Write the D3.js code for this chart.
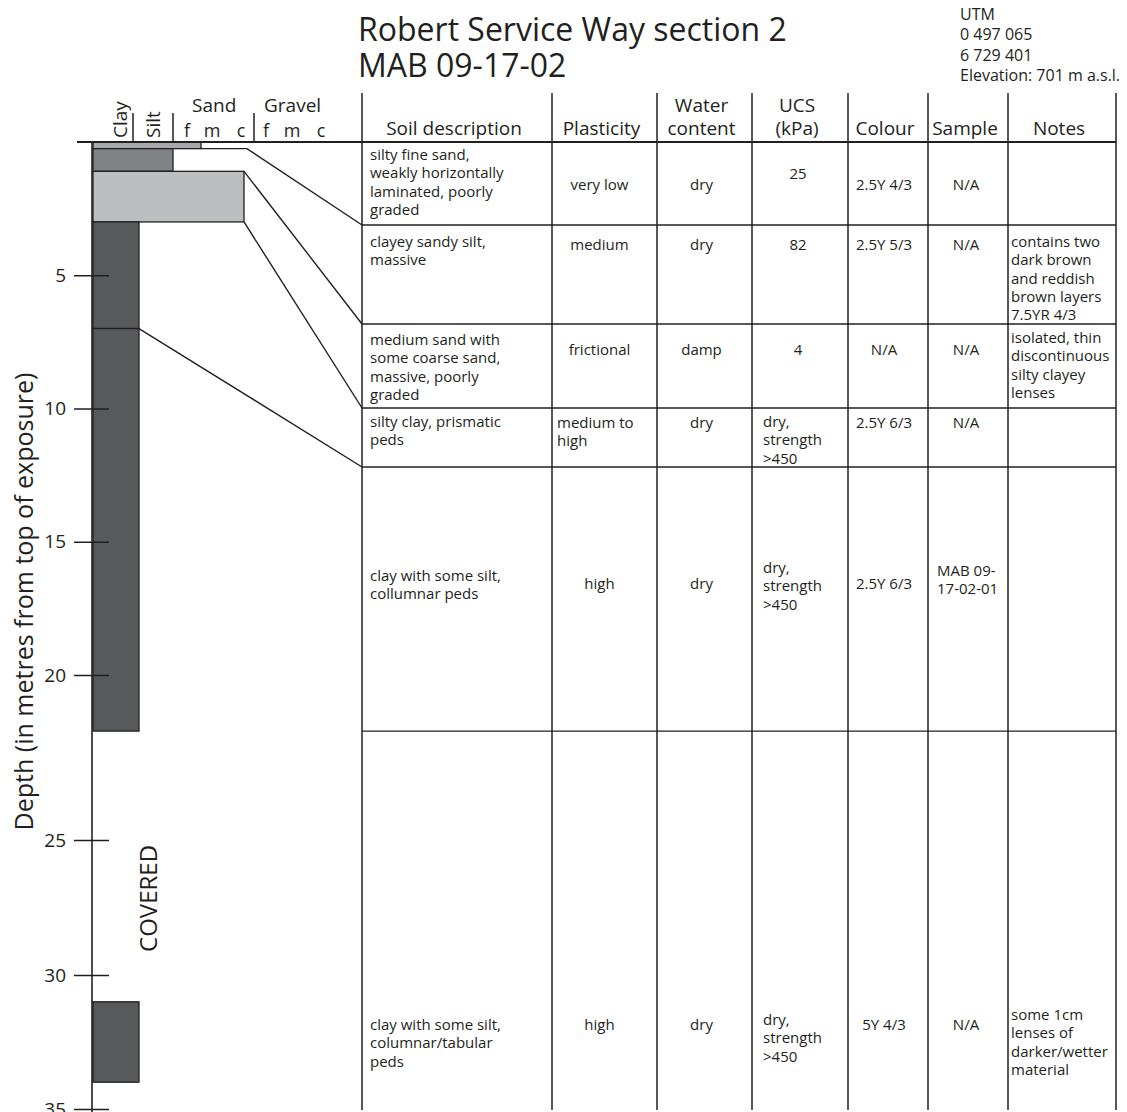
<!DOCTYPE html>
<html>
<head>
<meta charset="utf-8">
<script src="https://cdn.jsdelivr.net/npm/d3@7"></script>
<style>
  body { margin: 0; background: #fff; }
  svg { display: block; font-family: "Open Sans", "Noto Sans", sans-serif; }
  text { fill: #231f20; }
</style>
</head>
<body>
<svg id="chart" width="1127" height="1112"></svg>
<script>
// ---- Section data -------------------------------------------------------
const titleLines = ["Robert Service Way section 2", "MAB 09-17-02"];
const siteInfo = ["UTM", "0 497 065", "6 729 401", "Elevation: 701 m a.s.l."];

const depthTicks = [5, 10, 15, 20, 25, 30, 35];

const grainClasses = ["clay", "silt", "fine sand", "medium sand", "coarse sand",
                      "fine gravel", "medium gravel", "coarse gravel"];

// beds, top to bottom (depth in m below top of exposure)
const bedTop   = [0,    0.25, 1.1,  3.0,  7.0,  31.0];
const bedBase  = [0.25, 1.1,  3.0,  7.0,  21.7, 34.0];
const bedGrain = ["fine sand", "silt", "coarse sand", "clay", "clay", "clay"];
const bedShade = ["#a7a9ac", "#808285", "#bcbec0", "#58595b", "#58595b", "#58595b"];
const coveredLabel = "COVERED";
const coveredTop = 21.7, coveredBase = 31.0;

const tableHeaders = [["Soil description"], ["Plasticity"], ["Water", "content"],
                      ["UCS", "(kPa)"], ["Colour"], ["Sample"], ["Notes"]];

const soilDescription = [
  ["silty fine sand,", "weakly horizontally", "laminated, poorly", "graded"],
  ["clayey sandy silt,", "massive"],
  ["medium sand with", "some coarse sand,", "massive, poorly", "graded"],
  ["silty clay, prismatic", "peds"],
  ["clay with some silt,", "collumnar peds"],
  ["clay with some silt,", "columnar/tabular", "peds"]
];
const plasticity = [["very low"], ["medium"], ["frictional"], ["medium to", "high"], ["high"], ["high"]];
const waterContent = [["dry"], ["dry"], ["damp"], ["dry"], ["dry"], ["dry"]];
const ucs = [["25"], ["82"], ["4"], ["dry,", "strength", ">450"],
             ["dry,", "strength", ">450"], ["dry,", "strength", ">450"]];
const colour = [["2.5Y 4/3"], ["2.5Y 5/3"], ["N/A"], ["2.5Y 6/3"], ["2.5Y 6/3"], ["5Y 4/3"]];
const sample = [["N/A"], ["N/A"], ["N/A"], ["N/A"], ["MAB 09-", "17-02-01"], ["N/A"]];
const notes = [
  [],
  ["contains two", "dark brown", "and reddish", "brown layers", "7.5YR 4/3"],
  ["isolated, thin", "discontinuous", "silty clayey", "lenses"],
  [],
  [],
  ["some 1cm", "lenses of", "darker/wetter", "material"]
];

// ---- Layout ---------------------------------------------------------------
const ink = "#231f20";
const svg = d3.select("#chart");

// depth axis: the log is drawn with a stretched interval between 20 and 25 m
const y = d3.scaleLinear()
  .domain([0, 20, 25, 30, 35])
  .range([142, 675, 840, 975, 1109]);

const axisX = 92;
const grainX = d3.scaleOrdinal()
  .domain(grainClasses)
  .range([139, 173, 201, 223, 244, 277, 305, 335]);

// table geometry
const colX = [362, 552, 657, 752, 848, 928, 1008, 1116];
const headTop = 93, tableBottom = 1110;
const rowTop = [142, 225, 324, 408, 467, y(bedBase[4])];
const lh = 18.3;

// ---- Title block ----------------------------------------------------------
svg.append("g").selectAll("text").data(titleLines).join("text")
  .attr("x", 358).attr("y", (d, i) => 41 + i * 36)
  .attr("font-size", 32).text(d => d);

svg.append("g").selectAll("text").data(siteInfo).join("text")
  .attr("x", 960).attr("y", (d, i) => 20 + i * 20.3)
  .attr("font-size", 16).text(d => d);

// ---- Stratigraphic column -------------------------------------------------
const col = svg.append("g");

col.selectAll("rect.bed").data(bedTop).join("rect")
  .attr("class", "bed")
  .attr("x", axisX + 1)
  .attr("y", (d, i) => y(bedTop[i]))
  .attr("width", (d, i) => grainX(bedGrain[i]) - axisX - 1)
  .attr("height", (d, i) => y(bedBase[i]) - y(bedTop[i]))
  .attr("fill", (d, i) => bedShade[i])
  .attr("stroke", ink).attr("stroke-width", 1.3);

// grain-size header
const gh = svg.append("g").attr("font-size", 19);
gh.append("text").attr("transform", "translate(127,138) rotate(-90)").text("Clay");
gh.append("text").attr("transform", "translate(160,138) rotate(-90)").text("Silt");
gh.append("text").attr("x", 192).attr("y", 112).text("Sand");
gh.append("text").attr("x", 264).attr("y", 112).text("Gravel");
[[187, "f"], [212, "m"], [241, "c"], [266, "f"], [292, "m"], [321, "c"]].forEach(([x, t]) =>
  gh.append("text").attr("x", x).attr("y", 137).attr("text-anchor", "middle")
    .attr("font-size", 18).text(t));
[133, 173, 254].forEach(x =>
  gh.append("line").attr("x1", x).attr("x2", x).attr("y1", 113).attr("y2", y(0))
    .attr("stroke", ink).attr("stroke-width", 1.5));

// depth axis
const axis = svg.append("g").attr("transform", `translate(${axisX},0)`)
  .call(d3.axisLeft(y).tickValues(depthTicks).tickSize(0).tickPadding(26))
  .call(g => g.select(".domain").remove());
axis.selectAll(".tick line").attr("x1", -18).attr("x2", 17)
  .attr("stroke", ink).attr("stroke-width", 1.5);
axis.selectAll(".tick text").attr("font-size", 19)
  .attr("font-family", "Open Sans, sans-serif").attr("fill", ink);
svg.append("line").attr("x1", axisX).attr("x2", axisX)
  .attr("y1", y(0)).attr("y2", 1112).attr("stroke", ink).attr("stroke-width", 1.6);

svg.append("text")
  .attr("transform", `translate(33,${(y(0) + y(35)) / 2 - 24}) rotate(-90)`)
  .attr("text-anchor", "middle").attr("font-size", 25)
  .text("Depth (in metres from top of exposure)");

svg.append("text")
  .attr("transform", `translate(157,${(y(coveredTop) + y(coveredBase)) / 2 + 32}) rotate(-90)`)
  .attr("text-anchor", "middle").attr("font-size", 24)
  .text(coveredLabel);

// ---- Table frame ----------------------------------------------------------
const frame = svg.append("g").attr("stroke", ink).attr("fill", "none");
frame.append("line").attr("x1", 77).attr("x2", colX[7])
  .attr("y1", y(0)).attr("y2", y(0)).attr("stroke-width", 1.8);
frame.selectAll("line.col").data(colX).join("line").attr("class", "col")
  .attr("x1", d => d).attr("x2", d => d)
  .attr("y1", headTop).attr("y2", tableBottom).attr("stroke-width", 1.5);
frame.selectAll("line.row").data(rowTop.slice(1)).join("line").attr("class", "row")
  .attr("x1", colX[0]).attr("x2", colX[7])
  .attr("y1", d => d).attr("y2", d => d).attr("stroke-width", 1.4);

// connectors from bed boundaries to table rows
const widestTop = bedTop[bedGrain.indexOf("coarse sand")];
const clearX = grainX("coarse sand") + 3;
const link = d3.line();
for (let i = 0; i < 4; i++) {
  const d = bedBase[i];
  const x0 = Math.max(grainX(bedGrain[i]), grainX(bedGrain[i + 1]));
  const pts = [[x0, y(d)]];
  if (d < widestTop) pts.push([clearX, y(d)]);
  pts.push([colX[0], rowTop[i + 1]]);
  frame.append("path").attr("d", link(pts)).attr("stroke-width", 1.4);
}

// ---- Table text -----------------------------------------------------------
const th = svg.append("g").attr("font-size", 19).attr("text-anchor", "middle");
tableHeaders.forEach((lines, c) => {
  const cx = (colX[c] + colX[c + 1]) / 2 - 3;
  lines.forEach((t, k) => th.append("text").attr("x", cx)
    .attr("y", 135 - (lines.length - 1 - k) * 23).text(t));
});

const cells = svg.append("g").attr("font-size", 15);
function put(lines, x, y0, anchor) {
  lines.forEach((t, k) => cells.append("text").attr("x", x).attr("y", y0 + k * lh)
    .attr("text-anchor", anchor).text(t));
}
// first baselines for each row: description, values, UCS, sample, notes
const rowText = [
  { desc: 160, val: 190, ucs: 179, smp: 190, note: 0 },
  { desc: 247, val: 250, ucs: 250, smp: 250, note: 247 },
  { desc: 345, val: 355, ucs: 355, smp: 355, note: 343 },
  { desc: 427, val: 428, ucs: 427, smp: 428, note: 0 },
  { desc: 581, val: 589, ucs: 573, smp: 576, note: 0 },
  { desc: 1030, val: 1030, ucs: 1025, smp: 1030, note: 1020 }
];
const mid = c => (colX[c] + colX[c + 1]) / 2;
rowText.forEach((r, i) => {
  put(soilDescription[i], colX[0] + 8, r.desc, "start");
  if (plasticity[i].length > 1) put(plasticity[i], colX[1] + 5, r.val, "start");
  else put(plasticity[i], mid(1) - 5, r.val, "middle");
  put(waterContent[i], mid(2) - 3, r.val, "middle");
  if (ucs[i].length > 1) put(ucs[i], colX[3] + 11, r.ucs, "start");
  else put(ucs[i], mid(3) - 2, r.ucs, "middle");
  put(colour[i], mid(4) - 4, r.val, "middle");
  if (sample[i].length > 1) put(sample[i], colX[5] + 9, r.smp, "start");
  else put(sample[i], mid(5) - 2, r.smp, "middle");
  put(notes[i], colX[6] + 3, r.note, "start");
});
</script>
</body>
</html>
